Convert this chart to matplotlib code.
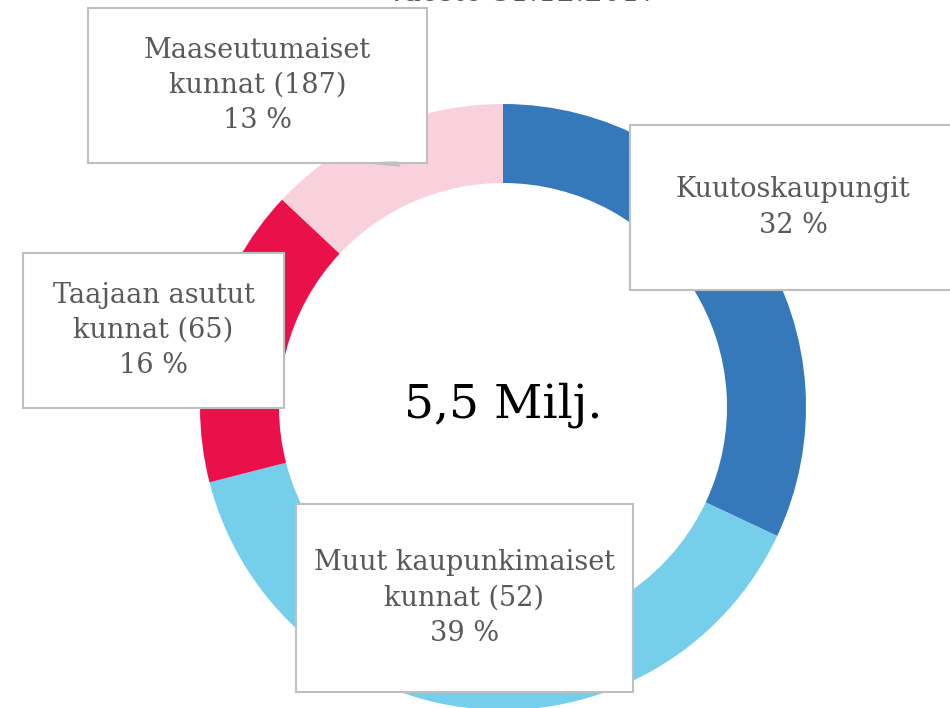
import matplotlib
matplotlib.use("Agg")
import matplotlib.pyplot as plt
from matplotlib.patches import Rectangle, Polygon

# data
categories = ['Kuutoskaupungit', 'Muut kaupunkimaiset\nkunnat', 'Taajaan asutut\nkunnat', 'Maaseutumaiset\nkunnat']
counts = [None, 52, 65, 187]
shares = [32, 39, 16, 13]
colors = ['#3579BA', '#75CEEA', '#EA114B', '#F9D1DC']
total_label = '5,5 Milj.'
title = 'Väestö 31.12.2017'

W, H = 950, 708
fig = plt.figure(figsize=(W / 100, H / 100), dpi=100)
ax = fig.add_axes([0, 0, 1, 1])

def py(y):
    return H - y

ax.pie(shares, colors=colors, startangle=90, counterclock=False,
       center=(503, py(407)), radius=303,
       wedgeprops=dict(width=79, linewidth=0))
ax.set_xlim(0, W)
ax.set_ylim(0, H)
ax.set_aspect('equal')
ax.axis('off')

font = 'DejaVu Serif'
gray = '#595959'

# label boxes (x0, y0, x1, y1) in pixels from top-left
boxes = [(630, 125, 960, 290), (296, 504, 633, 692), (23, 253, 284, 408), (88, 8, 427, 163)]

for cat, n, s, (x0, y0, x1, y1) in zip(categories, counts, shares, boxes):
    ax.add_patch(Rectangle((x0, py(y1)), x1 - x0, y1 - y0, facecolor='white',
                           edgecolor='#BFBFBF', lw=1.5, zorder=3))
    txt = cat if n is None else f'{cat} ({n})'
    txt += f'\n{s} %'
    ax.text((x0 + x1) / 2 if x1 < W else 793, py((y0 + y1) / 2), txt,
            ha='center', va='center', fontsize=19.5, color=gray,
            family=font, linespacing=1.4, zorder=4)

# callout tail of the top-left box
ax.add_patch(Polygon([(368, py(163)), (400, py(166)), (396, py(162))],
                     closed=True, facecolor='#BFBFBF', edgecolor='#BFBFBF',
                     lw=1, zorder=3))

ax.text(503, py(405), total_label, ha='center', va='center', fontsize=34,
        color='black', family=font, zorder=4)

# title, mostly outside the picture (cut off as in the original)
ax.text(522, py(1), title, ha='center', va='baseline', fontsize=21,
        color=gray, family=font)

fig.savefig('out.png', dpi=100)
